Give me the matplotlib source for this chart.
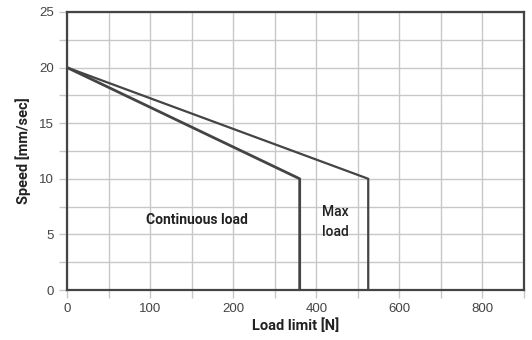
import numpy as np
import matplotlib.pyplot as plt

# axis ticks (the load axis is not linear: labels are evenly spaced)
tick_labels = [0, 100, 200, 400, 600, 800]
tick_pos = np.arange(len(tick_labels))

# curves: load [N] vs speed [mm/sec]
cont_load = [0, 360, 360]
cont_speed = [20, 10, 0]
max_load = [0, 525, 525]
max_speed = [20, 10, 0]


def to_axis(load):
    return np.interp(load, tick_labels, tick_pos)


fig = plt.figure(figsize=(5.32, 3.4), dpi=100)
ax = fig.add_axes([0.126, 0.147, 0.859, 0.818])

ax.set_xlim(0, 5.5)
ax.set_ylim(0, 25)

ax.set_xticks(tick_pos)
ax.set_xticklabels([str(t) for t in tick_labels])
ax.set_xticks(np.arange(0, 5.51, 0.5), minor=True)
ax.set_yticks(np.arange(0, 26, 5))
ax.set_yticks(np.arange(0, 25.1, 2.5), minor=True)

ax.grid(True, which="both", color="#c8c8c8", lw=1)
ax.set_axisbelow(True)
ax.tick_params(which="both", colors="#c8c8c8", labelcolor="#444444",
               labelsize=9.5, length=6, width=1)
for lab in ax.get_xticklabels() + ax.get_yticklabels():
    lab.set_family("Liberation Sans")

for s in ax.spines.values():
    s.set_color("#444444")
    s.set_linewidth(1.6)

ax.plot(to_axis(cont_load), cont_speed, color="#444444", lw=2)
ax.plot(to_axis(max_load), max_speed, color="#444444", lw=1.6)

ax.text(1.56, 6.3, "Continuous load", ha="center", va="center",
        fontsize=10, fontweight="bold", family="Roboto", color="#222222")
ax.text(3.23, 6.1, "Max\nload", ha="center", va="center",
        fontsize=10, fontweight="medium", family="Roboto", color="#222222",
        linespacing=1.5)

ax.set_xlabel("Load limit [N]", fontsize=10.5, fontweight="bold",
              family="Roboto", color="#222222", labelpad=2)
ax.set_ylabel("Speed [mm/sec]", fontsize=10.5, fontweight="bold",
              family="Roboto", color="#222222", labelpad=6)

fig.savefig("out.png", dpi=100)
